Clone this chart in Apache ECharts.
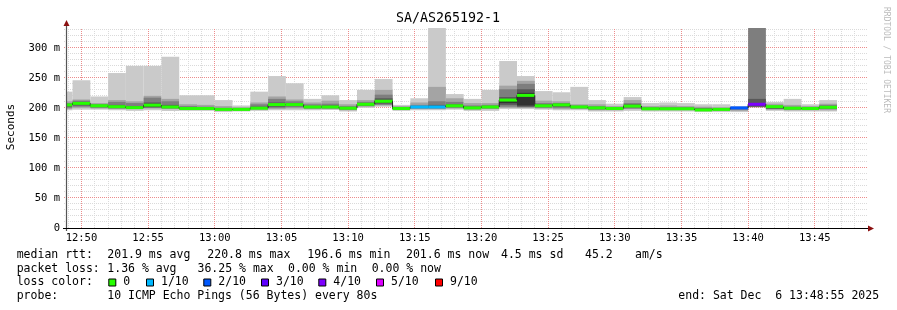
<!DOCTYPE html>
<html><head><meta charset="utf-8">
<script src="https://cdn.jsdelivr.net/npm/echarts@6/dist/echarts.min.js"></script>
<style>html,body{margin:0;padding:0;background:#fff;}#c{width:897px;height:310px;}</style>
</head><body><div id="c"></div>
<script>
// ---- data (ms) ----
const axisStart = '12:48:55';
const axisEnd = '13:48:55';
const stepSeconds = 80;
const endTimes = ['12:49:20','12:50:40','12:52:00','12:53:20','12:54:40','12:56:00','12:57:20','12:58:40','13:00:00','13:01:20',
  '13:02:40','13:04:00','13:05:20','13:06:40','13:08:00','13:09:20','13:10:40','13:12:00','13:13:20','13:14:40',
  '13:16:00','13:17:20','13:18:40','13:20:00','13:21:20','13:22:40','13:24:00','13:25:20','13:26:40','13:28:00',
  '13:29:20','13:30:40','13:32:00','13:33:20','13:34:40','13:36:00','13:37:20','13:38:40','13:40:00','13:41:20',
  '13:42:40','13:44:00','13:45:20','13:46:40'];
const lo1 = [196,197,197,196,195,196,195,195,195,193, 194,195,196,196,196,196.5,194,200,202,195, 196,196,197,195,195,198,198,197,196,196, 194,194,195,194,194,194,193,193,193,null, 195,194,194,194];
const hi1 = [227,246,219,258,270,270,285,221,221,213, 204,227,253,241,215,221,213,230,248,205, 216,345,223,215,230,278,253,228,226,235, 213,207,218,208,209,208,206,206,203,null, 210,215,206,213];
const lo2 = [198,200,199,198,198,199,198,197,197,195, 195,197,198,199,198,198,196,202,204,197, 198,198,199,197,198,200,200,199,198,198, 196,196,198,196,196,196,195,195,195,null, 197,196,196,196];
const hi2 = [211,214,208,213,211,220,215,206,205,203, 201,209,219,214,209,212,206,213,230,203, 209,235,216,208,208,237,245,212,211,206, 206,203,213,203,204,203,202,201,201,null, 207,205,203,207];
const lo3 = [200,202,200,199,199,200,199,198,198,196, 196,198,200,201,199,199,197,203,205,198, 199,199,200,198,199,202,201,200,200,199, 197,197,199,197,197,197,196,196,197,201, 198,197,197,198];
const hi3 = [208,212,206,210,208,217,211,203,202,200, 199.5,206,215,211,206,207,203,210,222,201, 205,211,210,204,205,231,240,208,208,204, 203,201,208,201,201,201,200,199.5,200.5,360, 204,202,201,205];
const lo4 = [202,204,202,200,200,201,200,198.5,198.5,196.5, 196.5,198.5,202,203,200,200,198,204,207,198.5, 200,200,202,199,200,205,202,201.5,202,200, 198.5,198,201,197.5,197.5,197.5,196.5,196.5,198,202, 199,198,198,199];
const hi4 = [206,210,205,205,203,209,205,201,200.5,199, 198.5,202,209,208,203,204,201,208,216,200, 203,205,206,202,203,218,231,206,207,203, 201.5,200,206,200,200,200,199,198.5,200.3,215, 202,201,200,203];
const lo5 = [204,206,203,201,200,202,200.5,199,199,197, 197,199,203,204,201,201,198.5,205,209,198.7, 201,201,203,199.5,201,208,204,202.5,203.5,201, 199.5,198.5,202,198,198,198,197,197,199,204, 199.5,198.5,198.5,200];
const hi5 = [205.5,208.5,204.5,203,202,205,203,200,200,198.5, 198,200.5,206.5,206.5,202.5,202.5,200,207,213,199.5, 202,202.5,204.5,201,202.5,214,225,204.5,206,202, 200.5,199.5,204,199,199,199,198,198,200.2,208, 201,200,199.5,202];
const median = [205,207.5,203.5,202,200.5,204.5,201.5,199,199,197.5, 197.5,199.5,205.5,205.5,201.5,201.5,199.5,206,211,199, 201.5,201.5,203.5,200,201.5,213,220.8,203.5,205,201.5, 200,199,203,198.5,198.5,198.5,196.6,197.5,200,206, 202,199.5,199,201];
const lostPings = [0,0,0,0,0,0,0,0,0,0, 0,0,0,0,0,0,0,0,0,0, 1,1,0,0,0,0,0,0,0,0, 0,0,0,0,0,0,0,0,2,3.6, 0,0,0,0];
const lossLevels = [0,1,2,3,4,5,9];
const lossColors = ['#26ff00','#00b8ff','#0059ff','#5e00ff','#7e00ff','#dd00ff','#ff0000'];
const lossLabels = ['0','1/10','2/10','3/10','4/10','5/10','9/10'];
const yMax = 333;
const yMinorStep = 10, yMajorStep = 50;   // ms
const xMinorStep = 1, xMajorStep = 5;     // minutes

// ---- helpers ----
function toMin(s){const p=s.split(':').map(Number);return p[0]*60+p[1]+p[2]/60;}
function fmtMin(v){const m=Math.round(v);const h=Math.floor(m/60),mm=m%60;return String(h).padStart(2,'0')+':'+String(mm).padStart(2,'0');}
function lossColor(l){for(let i=0;i<lossLevels.length;i++){if(l<=lossLevels[i])return lossColors[i];}return lossColors[lossColors.length-1];}
const xMin=toMin(axisStart), xMax=toMin(axisEnd);

const rows = endTimes.map((t,i)=>{
  const e = toMin(t);
  return [e-stepSeconds/60, e, lo1[i],hi1[i],lo2[i],hi2[i],lo3[i],hi3[i],lo4[i],hi4[i],lo5[i],hi5[i],
          median[i], i>0?median[i-1]:null, lostPings[i]];
});

const shades = ['#cacaca','#a4a4a4','#7e7e7e','#585858','#323232'];
function bad(v){return v==null||isNaN(v);}
function renderItem(params, api){
  const cs = params.coordSys;
  const top=cs.y, bottom=cs.y+cs.height, left=cs.x, right=cs.x+cs.width;
  let x0 = api.coord([api.value(0),0])[0];
  let x1 = api.coord([api.value(1),0])[0];
  x0=Math.max(x0,left); x1=Math.min(x1,right);
  const ch=[];
  for(let b=0;b<5;b++){
    const lo=api.value(2+2*b), hi=api.value(3+2*b);
    if(bad(lo)||bad(hi)) continue;
    const yh=Math.max(api.coord([0,hi])[1],top);
    const yl=Math.min(api.coord([0,lo])[1],bottom);
    ch.push({type:'rect',shape:{x:x0,y:yh,width:x1-x0,height:yl-yh},style:{fill:shades[b]}});
  }
  const yMed=api.coord([0,api.value(12)])[1];
  const pv=api.value(13);
  const yPrev=bad(pv)?yMed:api.coord([0,pv])[1];
  ch.push({type:'polyline',shape:{points:[[x0,yPrev],[x0,yMed],[x1,yMed]]},style:{stroke:'#202020',lineWidth:1,fill:null}});
  ch.push({type:'rect',shape:{x:x0,y:yMed-1.5,width:x1-x0,height:3},style:{fill:lossColor(api.value(14))}});
  return {type:'group',children:ch};
}

const MONO='DejaVu Sans Mono';
const MINOR='#dadada', MAJOR='#ec8c8c';
const gridL=67, gridT=28, gridW=800, gridH=200;

const graphics=[];
function txt(x,y,s,opt){graphics.push(Object.assign({type:'text',x:x,y:y,z:100,silent:true,style:Object.assign({text:s,font:'11.5px '+MONO,fill:'#000',textAlign:'left',textVerticalAlign:'middle'},opt&&opt.style||{})},opt&&opt.el||{}));}
txt(448,19,'SA/AS265192-1',{style:{font:'13.3px '+MONO,textAlign:'center'}});
txt(11,127,'Seconds',{style:{font:'11px '+MONO,textAlign:'center'},el:{rotation:Math.PI/2}});
txt(886,60,'RRDTOOL / TOBI OETIKER',{style:{font:'8px '+MONO,textAlign:'center',fill:'#bbbbbb'},el:{rotation:-Math.PI/2}});
const L1=255,L2=268.7,L3=282.5,L4=296.5;
[[16.7,'median rtt:'],[107.3,'201.9 ms avg'],[207.3,'220.8 ms max'],[307.3,'196.6 ms min'],[406,'201.6 ms now'],[501,'4.5 ms sd'],[585,'45.2'],[635,'am/s']].forEach(p=>txt(p[0],L1,p[1]));
[[16.7,'packet loss:'],[107.3,'1.36 % avg'],[197.5,'36.25 % max'],[288,'0.00 % min'],[371.7,'0.00 % now']].forEach(p=>txt(p[0],L2,p[1]));
txt(16.7,L3,'loss color:');
const sqX=[108.3,146,203.3,261,318.3,376,435];
lossLabels.forEach((lab,i)=>{
  graphics.push({type:'rect',silent:true,z:100,shape:{x:sqX[i]+0.5,y:L3-3.5,width:7,height:7},style:{fill:lossColors[i],stroke:'#000',lineWidth:1}});
  txt(sqX[i]+15,L3,lab);
});
txt(16.7,L4,'probe:');
txt(107.3,L4,'10 ICMP Echo Pings (56 Bytes) every 80s');
txt(678.3,L4,'end: Sat Dec  6 13:48:55 2025');
graphics.push({type:'line',silent:true,z:100,shape:{x1:66.5,y1:23,x2:66.5,y2:231},style:{stroke:'#555',lineWidth:1.2}});
graphics.push({type:'line',silent:true,z:100,shape:{x1:63,y1:228.5,x2:869,y2:228.5},style:{stroke:'#000',lineWidth:1.2}});
graphics.push({type:'polygon',silent:true,z:101,shape:{points:[[66.5,20],[63.5,26],[69.5,26]]},style:{fill:'#8b1010'}});
graphics.push({type:'polygon',silent:true,z:101,shape:{points:[[874,228.5],[868,225.5],[868,231.5]]},style:{fill:'#8b1010'}});

const chart=echarts.init(document.getElementById('c'),null,{renderer:'canvas'});
chart.setOption({
  animation:false,
  backgroundColor:'#ffffff',
  textStyle:{fontFamily:MONO},
  grid:{left:gridL,top:gridT,width:gridW,height:gridH,containLabel:false},
  xAxis:{type:'value',min:xMin,max:xMax,minInterval:xMajorStep,maxInterval:xMajorStep,splitNumber:12,
     axisLine:{show:false},axisTick:{show:false},splitLine:{show:false},
     axisLabel:{show:true,margin:5,fontFamily:MONO,fontSize:10.5,color:'#000',showMinLabel:false,showMaxLabel:false,
       formatter:v=>{const r=Math.round(v);return (Math.abs(v-r)<1e-6&&r%xMajorStep===0)?fmtMin(v):'';}}},
  yAxis:{type:'value',min:0,max:yMax,interval:yMajorStep,
     axisLine:{show:false},axisTick:{show:false},splitLine:{show:false},
     axisLabel:{show:true,margin:7,fontFamily:MONO,fontSize:10.5,color:'#000',
       formatter:v=>(v%yMajorStep===0)?(v===0?'0':v+' m'):''}},
  series:[{type:'custom',renderItem:renderItem,data:rows,encode:{x:[0,1],y:[12]},clip:false,z:2}]
});

// grid lines placed through the axes' own scales (kept behind the series)
const gridEls=[];
const topPx=chart.convertToPixel({gridIndex:0},[xMin,yMax])[1];
const botPx=chart.convertToPixel({gridIndex:0},[xMin,0])[1];
const leftPx=chart.convertToPixel({gridIndex:0},[xMin,0])[0];
const rightPx=chart.convertToPixel({gridIndex:0},[xMax,0])[0];
for(let m=Math.ceil(xMin); m<xMax; m+=xMinorStep){
  const x=Math.floor(chart.convertToPixel({gridIndex:0},[m,0])[0])+0.5;
  const major=(m%xMajorStep===0);
  gridEls.push({type:'line',silent:true,z:major?-1:-2,shape:{x1:x,y1:botPx,x2:x,y2:topPx},
    style:{stroke:major?MAJOR:MINOR,lineWidth:1,lineDash:[1,1]}});
}
for(let v=yMinorStep; v<yMax; v+=yMinorStep){
  const y=Math.floor(chart.convertToPixel({gridIndex:0},[xMin,v])[1])+0.5;
  const major=(v%yMajorStep===0);
  gridEls.push({type:'line',silent:true,z:major?-1:-2,shape:{x1:leftPx-3,y1:y,x2:rightPx,y2:y},
    style:{stroke:major?MAJOR:MINOR,lineWidth:1,lineDash:[1,1]}});
}
chart.setOption({graphic:gridEls.concat(graphics)});
</script></body></html>
